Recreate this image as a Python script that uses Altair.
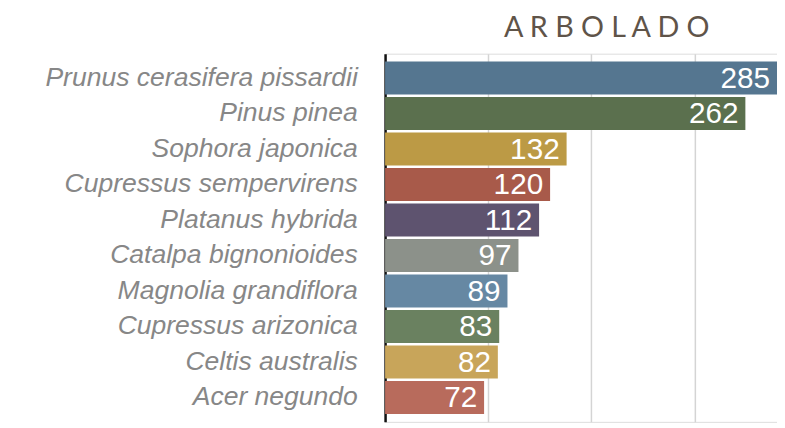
import altair as alt
import pandas as pd

species = [
    "Prunus cerasifera pissardii",
    "Pinus pinea",
    "Sophora japonica",
    "Cupressus sempervirens",
    "Platanus hybrida",
    "Catalpa bignonioides",
    "Magnolia grandiflora",
    "Cupressus arizonica",
    "Celtis australis",
    "Acer negundo",
]
counts = [285, 262, 132, 120, 112, 97, 89, 83, 82, 72]
colors = [
    "#557690", "#5b704e", "#bc9a45", "#a85a4a", "#5e536f",
    "#8c918a", "#6688a3", "#6a8160", "#c8a55a", "#b86b5c",
]
grid_values = [0, 75, 150, 225]
title_text = "A R B O L A D O"

df = pd.DataFrame({"especie": species, "n": counts})

y_enc = alt.Y(
    "especie:N",
    sort=species,
    title=None,
    scale=alt.Scale(paddingInner=0.07, paddingOuter=0.22),
    axis=alt.Axis(
        ticks=False,
        labelPadding=28,
        labelFont="Liberation Sans",
        labelFontStyle="italic",
        labelFontSize=26.8,
        labelColor="#878787",
        labelLimit=400,
        domainColor="#111111",
        domainWidth=2.5,
        minExtent=381,
        maxExtent=381,
        grid=False,
    ),
)
x_enc = alt.X(
    "n:Q",
    title=None,
    scale=alt.Scale(domain=[0, 285], nice=False),
    axis=alt.Axis(
        values=grid_values,
        labels=False,
        ticks=False,
        domain=False,
        grid=True,
        gridColor="#d4d4d4",
        gridWidth=1.5,
    ),
)

bars = alt.Chart(df).mark_bar().encode(
    y=y_enc,
    x=x_enc,
    color=alt.Color("especie:N", scale=alt.Scale(domain=species, range=colors), legend=None),
)

labels = alt.Chart(df).mark_text(
    align="right",
    baseline="middle",
    dx=-7,
    dy=1,
    color="white",
    font="Liberation Sans",
    fontSize=30,
).encode(
    y=alt.Y("especie:N", sort=species),
    x=alt.X("n:Q"),
    text=alt.Text("n:Q"),
)

chart = (
    alt.layer(bars, labels)
    .properties(
        width=396,
        height=372,
        title=alt.TitleParams(
            title_text,
            font="Lato",
            fontSize=29,
            fontWeight="normal",
            color="#5f5449",
            anchor="middle",
            dx=26,
            offset=11,
        ),
        padding={"left": 0, "top": 4, "right": 0, "bottom": 0},
    )
    .configure_view(stroke=None)
    .configure(background="white")
)

chart.save("out.html", embed_options={"renderer": "svg", "actions": False})
